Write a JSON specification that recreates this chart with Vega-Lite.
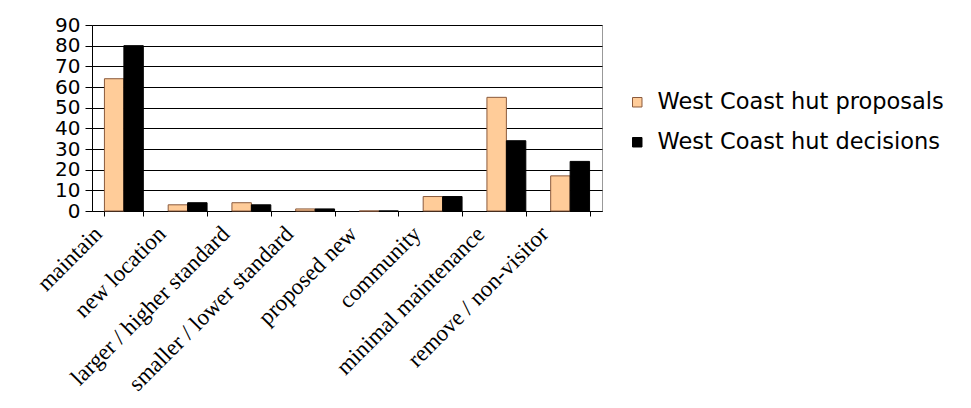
{
  "$schema": "https://vega.github.io/schema/vega-lite/v6.json",
  "autosize": {"type": "none"},
  "padding": {"left": 92, "top": 25, "right": 369, "bottom": 197},
  "width": 510,
  "height": 186,
  "background": "white",
  "data": {"values": [
    {"category": "maintain", "series": "West Coast hut proposals", "value": 64},
    {"category": "maintain", "series": "West Coast hut decisions", "value": 80},
    {"category": "new location", "series": "West Coast hut proposals", "value": 3},
    {"category": "new location", "series": "West Coast hut decisions", "value": 4},
    {"category": "larger / higher standard", "series": "West Coast hut proposals", "value": 4},
    {"category": "larger / higher standard", "series": "West Coast hut decisions", "value": 3},
    {"category": "smaller / lower standard", "series": "West Coast hut proposals", "value": 1},
    {"category": "smaller / lower standard", "series": "West Coast hut decisions", "value": 1},
    {"category": "proposed new", "series": "West Coast hut proposals", "value": 0},
    {"category": "proposed new", "series": "West Coast hut decisions", "value": 0},
    {"category": "community", "series": "West Coast hut proposals", "value": 7},
    {"category": "community", "series": "West Coast hut decisions", "value": 7},
    {"category": "minimal maintenance", "series": "West Coast hut proposals", "value": 55},
    {"category": "minimal maintenance", "series": "West Coast hut decisions", "value": 34},
    {"category": "remove / non-visitor", "series": "West Coast hut proposals", "value": 17},
    {"category": "remove / non-visitor", "series": "West Coast hut decisions", "value": 24}
  ]},
  "mark": {"type": "bar", "strokeWidth": 1},
  "encoding": {
    "x": {
      "field": "category", "type": "nominal", "sort": null,
      "scale": {"paddingInner": 0.39, "paddingOuter": 0.195},
      "axis": {
        "title": null, "labelAngle": -45, "labelAlign": "right", "labelBaseline": "middle",
        "labelFont": "Liberation Serif", "labelFontSize": 23, "labelColor": "black",
        "labelOffset": -26, "labelPadding": 14, "labelLimit": 400, "labelOverlap": false,
        "tickBand": "extent", "tickSize": 5, "tickColor": "black",
        "domainColor": "black", "grid": false
      }
    },
    "xOffset": {"field": "series", "type": "nominal", "sort": ["West Coast hut proposals", "West Coast hut decisions"]},
    "y": {
      "field": "value", "type": "quantitative",
      "scale": {"domain": [0, 90], "nice": false},
      "axis": {
        "title": null, "values": [0,10,20,30,40,50,60,70,80,90],
        "labelFont": "DejaVu Sans", "labelFontSize": 20, "labelColor": "black",
        "labelPadding": 5, "tickSize": 7, "tickColor": "black", "domainColor": "black",
        "labelOverlap": false,
        "grid": true, "gridColor": "black", "gridWidth": 1, "gridOpacity": 1
      }
    },
    "color": {
      "field": "series", "type": "nominal",
      "scale": {"domain": ["West Coast hut proposals", "West Coast hut decisions"], "range": ["#FFCC99", "#000000"]},
      "legend": {
        "title": null, "orient": "none", "legendX": 534, "legendY": 66,
        "symbolType": "square", "symbolSize": 90, "symbolStrokeWidth": 1,
        "labelFont": "DejaVu Sans", "labelFontSize": 22.5, "labelColor": "black",
        "labelOffset": 9, "rowPadding": 17, "labelLimit": 400
      }
    },
    "stroke": {
      "field": "series", "type": "nominal",
      "scale": {"domain": ["West Coast hut proposals", "West Coast hut decisions"], "range": ["#8B5A3C", "#000000"]},
      "legend": null
    }
  },
  "config": {
    "view": {"stroke": "#999999", "strokeWidth": 1},
    "axis": {"domainWidth": 1, "tickWidth": 1}
  }
}
